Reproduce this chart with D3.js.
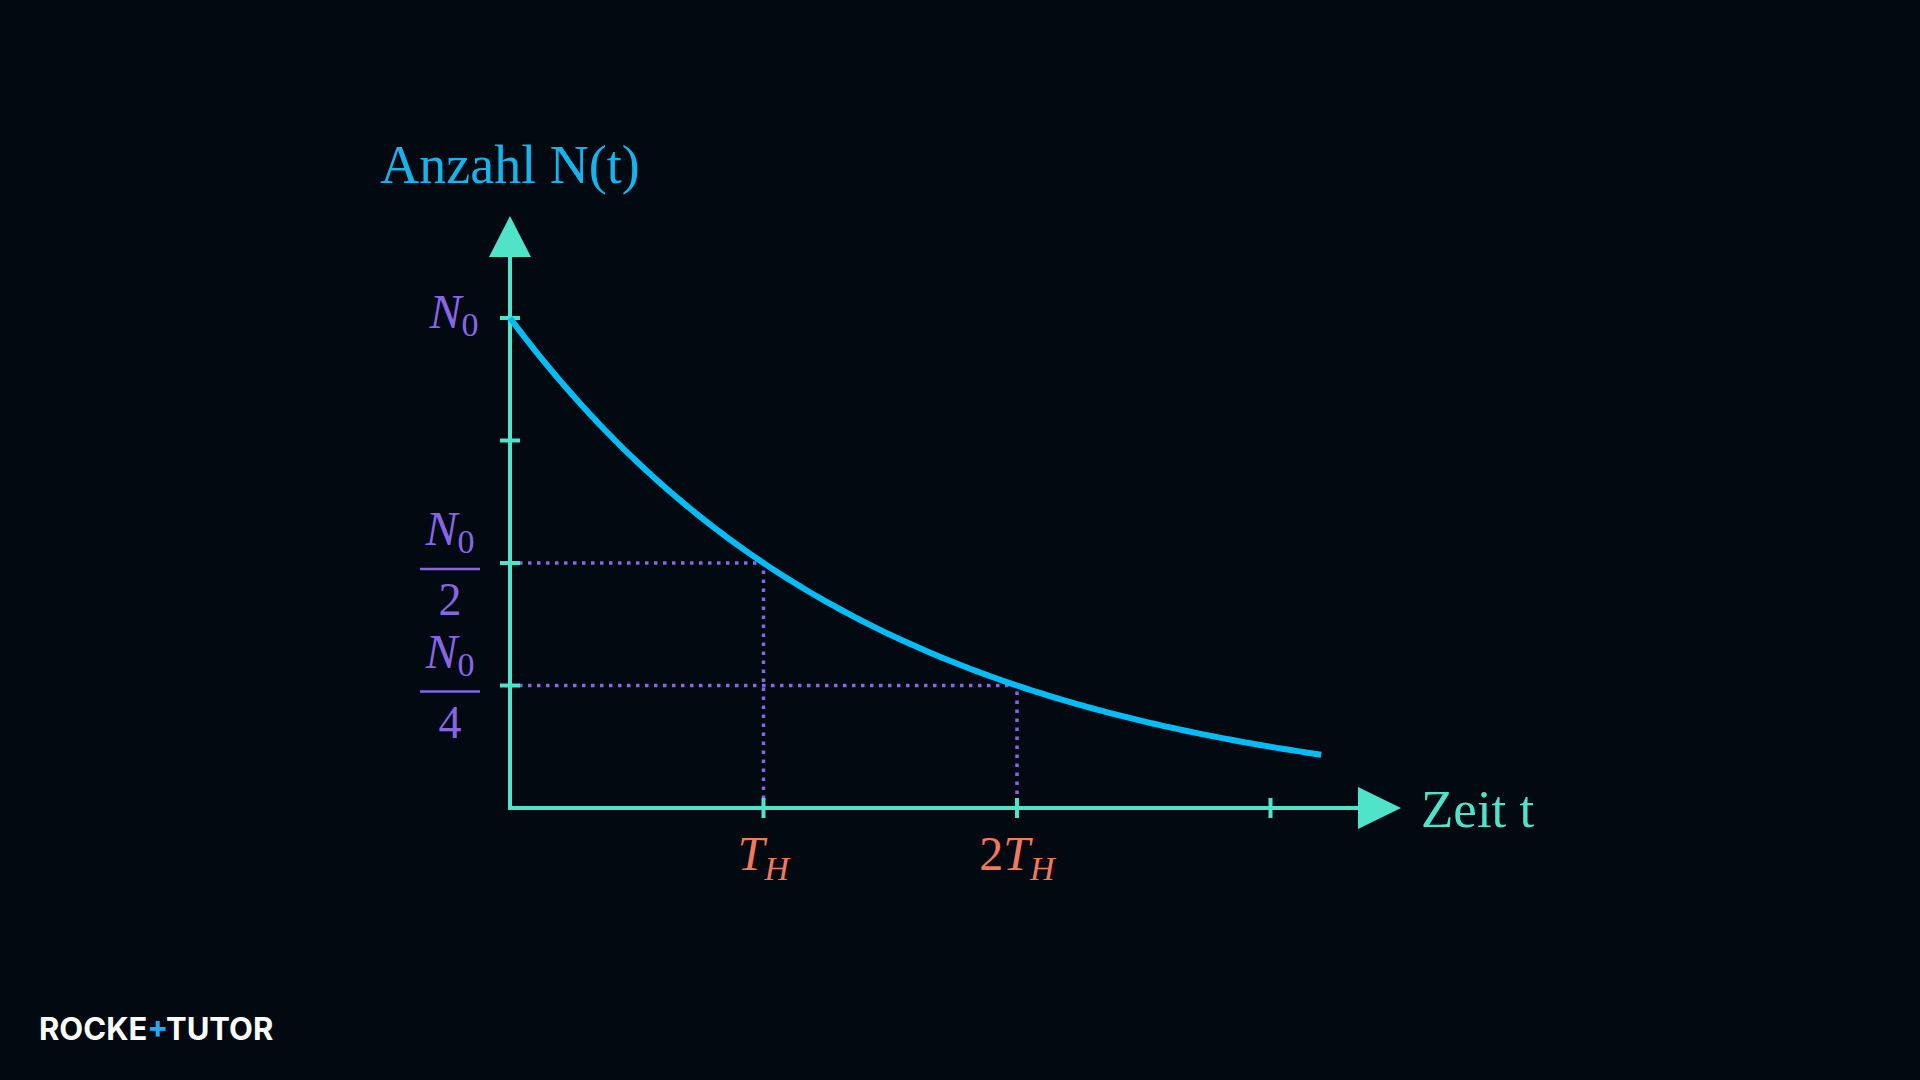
<!DOCTYPE html>
<html><head><meta charset="utf-8">
<script src="https://cdn.jsdelivr.net/npm/d3@7"></script>
<style>
  html, body { margin: 0; background: #020911; }
</style></head>
<body><div class="chart"></div>
<script>
// half-lives on x, fraction of N0 on y
const tMax = 3.2;
const xTicks = [1, 2, 3];
const xTickLabels = ['T', '2T', ''];
const yTicks = [0.25, 0.5, 0.75, 1];
const markers = [1, 2];

const W = 1920, H = 1080;
const origin = { x: 510, y: 808 };

const svg = d3.select('.chart').append('svg').attr('width', W).attr('height', H);
svg.append('rect').attr('width', W).attr('height', H).attr('fill', '#020911');

const x = d3.scaleLinear().domain([0, 1]).range([origin.x, origin.x + 253.5]);
const y = d3.scaleLinear().domain([0, 1]).range([origin.y, 318]);

const axisColor = '#4fe3c9';
const purple = '#8766e6';
const orange = '#ef7a5c';

// dotted guides
markers.forEach((m) => {
  const v = Math.pow(2, -m);
  svg.append('path')
    .attr('d', `M${x(0)},${y(v)}H${x(m)}V${y(0)}`)
    .attr('fill', 'none').attr('stroke', purple)
    .attr('stroke-width', 3.5).attr('stroke-dasharray', '3.5,5.5');
});

// axes
svg.append('line').attr('x1', x(0)).attr('y1', y(0)).attr('x2', x(0)).attr('y2', 252)
  .attr('stroke', axisColor).attr('stroke-width', 4);
svg.append('path').attr('d', `M${x(0)},216L${x(0) - 21},257L${x(0) + 21},257Z`).attr('fill', axisColor);
svg.append('line').attr('x1', x(0) - 2).attr('y1', y(0)).attr('x2', 1365).attr('y2', y(0))
  .attr('stroke', axisColor).attr('stroke-width', 4);
svg.append('path').attr('d', `M1401,${y(0)}L1358,${y(0) - 21}L1358,${y(0) + 21}Z`).attr('fill', axisColor);

svg.selectAll('.xt').data(xTicks).enter().append('line')
  .attr('x1', (d) => x(d)).attr('x2', (d) => x(d))
  .attr('y1', y(0) - 10).attr('y2', y(0) + 10)
  .attr('stroke', axisColor).attr('stroke-width', 4);
svg.selectAll('.yt').data(yTicks).enter().append('line')
  .attr('x1', x(0) - 10).attr('x2', x(0) + 10)
  .attr('y1', (d) => y(d)).attr('y2', (d) => y(d))
  .attr('stroke', axisColor).attr('stroke-width', 4);

// decay curve
const curve = d3.range(0, tMax + 0.001, 0.02).map((t) => [t, Math.pow(2, -t)]);
svg.append('path').datum(curve)
  .attr('d', d3.line().x((d) => x(d[0])).y((d) => y(d[1])))
  .attr('fill', 'none').attr('stroke', '#00bdf7').attr('stroke-width', 6);

// titles
const serif = 'Liberation Serif, DejaVu Serif, serif';
svg.append('text').attr('x', x(0)).attr('y', 183).attr('text-anchor', 'middle')
  .attr('font-family', serif).attr('font-size', 54).attr('fill', '#16b4ec').text('Anzahl N(t)');
svg.append('text').attr('x', 1421).attr('y', 827)
  .attr('font-family', serif).attr('font-size', 53).attr('fill', axisColor).text('Zeit  t');

// y labels
const nLabel = (g, cx, base) => {
  const t = g.append('text').attr('x', cx).attr('y', base).attr('text-anchor', 'middle')
    .attr('font-family', serif).attr('fill', purple);
  t.append('tspan').attr('font-style', 'italic').attr('font-size', 48).text('N');
  t.append('tspan').attr('font-size', 34).attr('dy', 8).text('0');
};
nLabel(svg, 454, 328);
[[0.5, '2'], [0.25, '4']].forEach(([v, den]) => {
  const yy = y(v);
  nLabel(svg, 450, yy - 18);
  svg.append('line').attr('x1', 420).attr('x2', 480).attr('y1', yy + 6).attr('y2', yy + 6)
    .attr('stroke', purple).attr('stroke-width', 2.5);
  svg.append('text').attr('x', 450).attr('y', yy + 52).attr('text-anchor', 'middle')
    .attr('font-family', serif).attr('font-size', 46).attr('fill', purple).text(den);
});

// x labels
xTicks.forEach((d, i) => {
  if (!xTickLabels[i]) return;
  const t = svg.append('text').attr('x', x(d)).attr('y', 870).attr('text-anchor', 'middle')
    .attr('font-family', serif).attr('fill', orange);
  const lbl = xTickLabels[i];
  if (lbl.length > 1) t.append('tspan').attr('font-size', 48).text(lbl.slice(0, -1));
  t.append('tspan').attr('font-style', 'italic').attr('font-size', 48).text('T');
  t.append('tspan').attr('font-style', 'italic').attr('font-size', 34).attr('dy', 10).text('H');
});

// logo
const logo = svg.append('text').attr('x', 39).attr('y', 1040)
  .attr('font-family', 'Inter, Roboto, sans-serif').attr('font-weight', 700)
  .attr('font-size', 31).attr('fill', '#ffffff');
logo.append('tspan').text('ROCKE');
logo.append('tspan').attr('fill', '#2aa8f0').text('+');
logo.append('tspan').text('TUTOR');
</script></body></html>
